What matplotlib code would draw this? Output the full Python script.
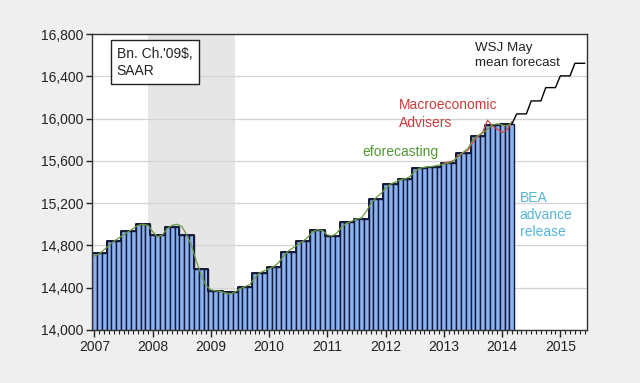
import numpy as np
import matplotlib
matplotlib.use("Agg")
import matplotlib.pyplot as plt
from matplotlib.ticker import FixedLocator, FuncFormatter

plt.rcParams['font.family'] = ['Liberation Sans', 'DejaVu Sans']

# Quarterly real GDP, bn. chained 2009$, SAAR, 2007Q1..2014Q1 (BEA advance release)
gdp_q = [14726, 14838, 14938, 15000, 14895, 14970, 14900, 14577, 14373, 14355,
         14405, 14541, 14597, 14742, 14838, 14946, 14890, 15018, 15053, 15237,
         15381, 15425, 15535, 15545, 15583, 15676, 15836, 15940, 15946]

# eforecasting monthly GDP, 2007M01..2014M03
eforecast_m = [14700, 14720, 14760, 14800, 14840, 14870, 14900, 14930, 14960, 14990, 15000, 14990,
               14930, 14880, 14900, 14960, 14990, 15000, 14980, 14900, 14800, 14650, 14520, 14420,
               14380, 14370, 14365, 14350, 14340, 14360, 14390, 14410, 14430, 14490, 14540, 14560,
               14580, 14600, 14640, 14700, 14750, 14780, 14810, 14840, 14880, 14930, 14950, 14940,
               14900, 14890, 14920, 14980, 15010, 15030, 15050, 15060, 15120, 15200, 15250, 15290,
               15340, 15380, 15400, 15420, 15430, 15450, 15500, 15530, 15540, 15545, 15550, 15560,
               15570, 15580, 15600, 15640, 15680, 15720, 15800, 15840, 15860, 15900, 15940, 15950,
               15940, 15930, 15960]

# Macroeconomic Advisers monthly GDP, 2013M01..2014M03
ma_m = [15580, 15590, 15600, 15650, 15680, 15700, 15780, 15830, 15870, 15985, 15930, 15900,
        15870, 15890, 15970]

# WSJ May mean forecast, quarterly 2014Q2..2015Q2
wsj_q = [16044, 16167, 16293, 16404, 16523]

years = [2007, 2008, 2009, 2010, 2011, 2012, 2013, 2014, 2015]
yticks = [14000, 14400, 14800, 15200, 15600, 16000, 16400, 16800]

# monthly index: 0 = 2007M01
gdp_m = np.repeat(gdp_q, 3)
x_gdp = np.arange(len(gdp_m))
x_ef = np.arange(len(eforecast_m))
x_ma = np.arange(len(ma_m)) + 72
wsj_m = np.concatenate([[gdp_q[-1]], np.repeat(wsj_q, 3)])
x_wsj = np.arange(len(wsj_m)) + len(gdp_m) - 1

fig = plt.figure(figsize=(6.4, 3.83), dpi=100, facecolor='#efefef')
ax = fig.add_axes([0.1438, 0.1384, 0.7734, 0.7728])
ax.set_facecolor('white')

# recession shading Dec 2007 - Jun 2009
ax.axvspan(11, 29, color='#e6e6e6', zorder=0, lw=0)

ax.set_ylim(14000, 16800)
ax.set_xlim(-0.5, 101.5)
ax.yaxis.set_major_locator(FixedLocator(yticks))
ax.yaxis.set_major_formatter(FuncFormatter(lambda v, p: f"{int(v):,}"))
ax.grid(axis='y', color='#d4d4d4', lw=0.9, zorder=1)

ax.bar(x_gdp, gdp_m, width=1.0, bottom=0, color='#8cb2f0', edgecolor='#15193a',
       linewidth=1.0, zorder=2)
ax.step(x_gdp, gdp_m, where='mid', color='#15193a', lw=1.4, zorder=3)

ax.plot(x_ma, ma_m, color='#d04848', lw=0.9, zorder=4)
ax.plot(x_ef, eforecast_m, color='#6a9a40', lw=0.9, zorder=5)
ax.plot(x_wsj, wsj_m, color='black', lw=1.0, zorder=6)

major = [(y - 2007) * 12 for y in years]
ax.xaxis.set_major_locator(FixedLocator(major))
ax.xaxis.set_minor_locator(FixedLocator([m for m in range(0, 102) if m % 12 != 0]))
ax.set_xticklabels([str(y) for y in years])
ax.tick_params(axis='x', which='major', direction='out', length=5, width=1.0,
               labelsize=10, colors='#222222', pad=2)
ax.tick_params(axis='x', which='minor', direction='out', length=3, width=0.8, colors='#222222')
ax.tick_params(axis='y', direction='out', length=4, width=1.0, labelsize=10,
               colors='#222222', pad=2)

for s in ax.spines.values():
    s.set_color('#333333')
    s.set_linewidth(1.0)
    s.set_zorder(7)

ax.text(0.05, 0.957, "Bn. Ch.'09$,\nSAAR", transform=ax.transAxes, fontsize=10,
        va='top', ha='left', color='#222222', linespacing=1.3,
        bbox=dict(boxstyle='square,pad=0.45', fc='white', ec='#222222', lw=1.0))
ax.text(0.774, 0.972, "WSJ May\nmean forecast", transform=ax.transAxes, fontsize=9.6,
        va='top', ha='left', color='#222222', linespacing=1.3)
ax.text(0.62, 0.783, "Macroeconomic\nAdvisers", transform=ax.transAxes, fontsize=10,
        va='top', ha='left', color='#cc3b3b', linespacing=1.3)
ax.text(0.546, 0.626, "eforecasting", transform=ax.transAxes, fontsize=10,
        va='top', ha='left', color='#4f9a30')
ax.text(0.864, 0.47, "BEA\nadvance\nrelease", transform=ax.transAxes, fontsize=10,
        va='top', ha='left', color='#55b5d8', linespacing=1.3)

fig.savefig('out.png', dpi=100, facecolor=fig.get_facecolor())
